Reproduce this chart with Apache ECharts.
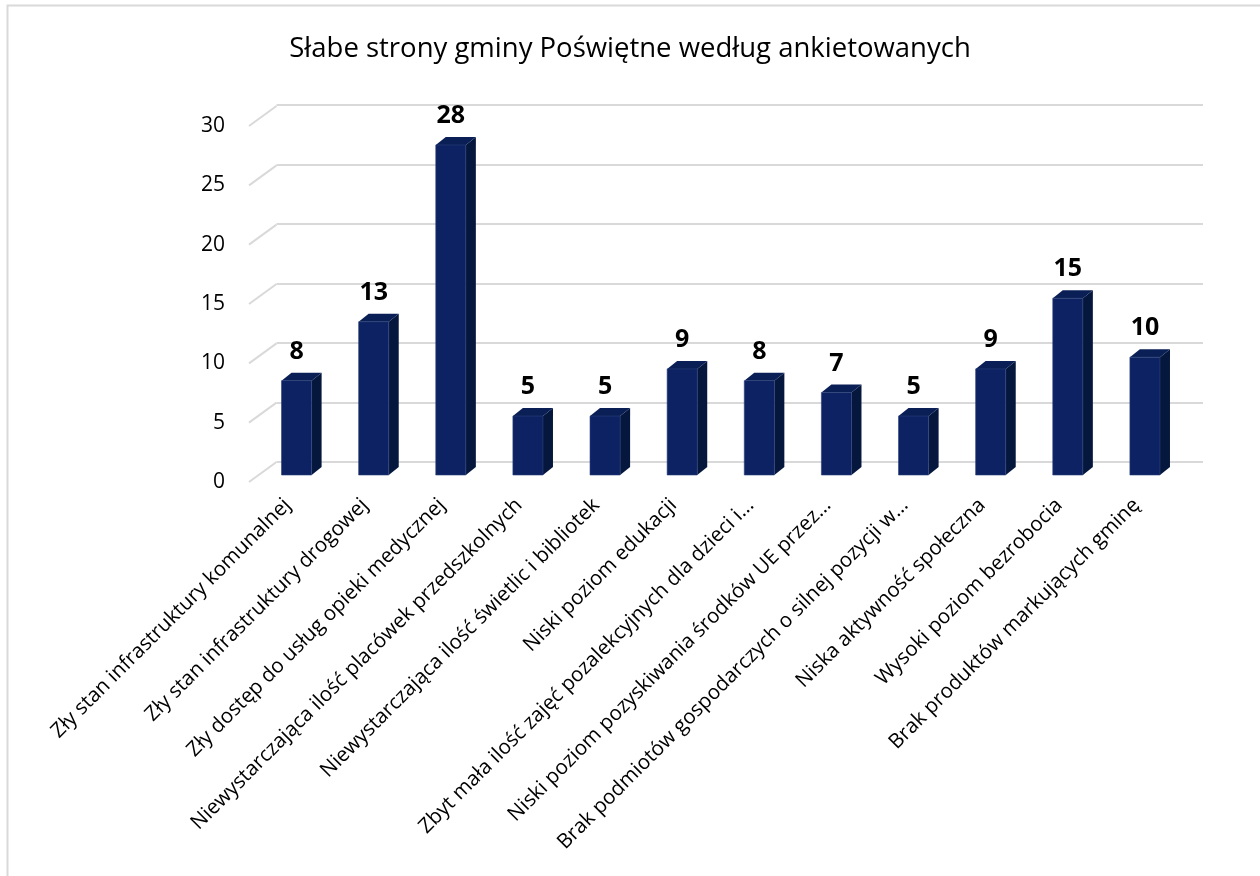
<!DOCTYPE html>
<html>
<head>
<meta charset="utf-8">
<script src="https://cdn.jsdelivr.net/npm/echarts@6/dist/echarts.min.js"></script>
<style>
html,body{margin:0;padding:0;background:#fff;}
#chart{width:1260px;height:876px;}
</style>
</head>
<body>
<div id="chart"></div>
<script>
var titleText = 'Słabe strony gminy Poświętne według ankietowanych';
var categories = [
  'Zły stan infrastruktury komunalnej',
  'Zły stan infrastruktury drogowej',
  'Zły dostęp do usług opieki medycznej',
  'Niewystarczająca ilość placówek przedszkolnych',
  'Niewystarczająca ilość świetlic i bibliotek',
  'Niski poziom edukacji',
  'Zbyt mała ilość zajęć pozalekcyjnych dla dzieci i...',
  'Niski poziom pozyskiwania środków UE przez...',
  'Brak podmiotów gospodarczych o silnej pozycji w...',
  'Niska aktywność społeczna',
  'Wysoki poziom bezrobocia',
  'Brak produktów markujących gminę'
];
var values = [8, 13, 28, 5, 5, 9, 8, 7, 5, 9, 15, 10];
var yTicks = [0, 5, 10, 15, 20, 25, 30];

var FONT = '"Open Sans", sans-serif';
var DEPTH_X = 27.5, DEPTH_Y = -20;   // floor depth (front -> back wall)
var BAR_DX = 10, BAR_DY = -8;        // bar depth

var chart = echarts.init(document.getElementById('chart'));

var barData = values.map(function (v, i) { return [i, v]; });
var tickData = yTicks.map(function (t) { return [0, t]; });

var option = {
  animation: false,
  backgroundColor: '#ffffff',
  title: {
    text: titleText,
    left: 'center',
    top: 30,
    textStyle: {fontFamily: FONT, fontSize: 27.5, fontWeight: 'normal', color: '#000'}
  },
  graphic: [{
    type: 'polyline',
    shape: {points: [[7.5, 880], [7.5, 5.5], [1265, 5.5]]},
    style: {stroke: '#d9d9d9', lineWidth: 2, fill: null},
    silent: true
  }],
  grid: [
    // 0: bar plane
    {left: 258, right: 76.5, top: 121.4, bottom: 401},
    // 1: back wall
    {left: 276.5, right: 57, top: 105, bottom: 414.3},
    // 2: front label plane (value labels + floor edges)
    {left: 249, right: 85, top: 126, bottom: 394},
    // 3: front label plane (category labels)
    {left: 249, right: 85, top: 126, bottom: 394}
  ],
  xAxis: [
    {gridIndex: 0, type: 'category', data: categories, show: false},
    {gridIndex: 1, type: 'value', min: 0, max: 1, show: false},
    {gridIndex: 2, type: 'value', min: 0, max: 1, show: false},
    {gridIndex: 3, type: 'category', data: categories,
     axisLine: {show: false}, axisTick: {show: false},
     axisLabel: {interval: 0, rotate: 45, margin: 20, fontFamily: FONT, fontSize: 20.5, color: '#000'}}
  ],
  yAxis: [
    {gridIndex: 0, type: 'value', min: 0, max: 30, interval: 5, show: false},
    {gridIndex: 1, type: 'value', min: 0, max: 30, interval: 5,
     axisLine: {show: false}, axisTick: {show: false}, axisLabel: {show: false},
     splitLine: {show: true, lineStyle: {color: '#d9d9d9', width: 2}}},
    {gridIndex: 2, type: 'value', min: 0, max: 30, interval: 5,
     axisLine: {show: false}, axisTick: {show: false}, splitLine: {show: false},
     axisLabel: {margin: 24, fontFamily: FONT, fontSize: 21, color: '#000'}},
    {gridIndex: 3, type: 'value', min: 0, max: 30, interval: 5, show: false}
  ],
  series: [
    {
      type: 'custom',
      xAxisIndex: 2, yAxisIndex: 2,
      data: tickData,
      encode: {x: 0, y: 1},
      silent: true,
      renderItem: function (params, api) {
        var p = api.coord([0, api.value(1)]);
        return {
          type: 'line',
          shape: {x1: p[0], y1: p[1], x2: p[0] + DEPTH_X, y2: p[1] + DEPTH_Y},
          style: {stroke: '#d9d9d9', lineWidth: 2}
        };
      }
    },
    {
      type: 'custom',
      xAxisIndex: 0, yAxisIndex: 0,
      data: barData,
      encode: {x: 0, y: 1},
      silent: true,
      renderItem: function (params, api) {
        var i = api.value(0);
        var v = api.value(1);
        var top = api.coord([i, v]);
        var base = api.coord([i, 0]);
        var bw = api.size([1, 0])[0] * 0.39;
        var x0 = top[0] - bw / 2, x1 = top[0] + bw / 2;
        var yt = top[1], yb = base[1];
        return {
          type: 'group',
          children: [
            {type: 'polygon', shape: {points: [[x1, yt], [x1 + BAR_DX, yt + BAR_DY], [x1 + BAR_DX, yb + BAR_DY], [x1, yb]]},
             style: {fill: '#06173d'}},
            {type: 'polygon', shape: {points: [[x0, yt], [x0 + BAR_DX, yt + BAR_DY], [x1 + BAR_DX, yt + BAR_DY], [x1, yt]]},
             style: {fill: '#0a1f55'}},
            {type: 'rect', shape: {x: x0, y: yt, width: bw, height: yb - yt},
             style: {fill: '#0c2262', stroke: '#2a3f7a', lineWidth: 0.6}},
            {type: 'text', x: top[0], y: yt - 29,
             style: {text: String(v), fontFamily: FONT, fontSize: 25, fontWeight: 'bold', fill: '#000',
                     align: 'center', verticalAlign: 'middle'}}
          ]
        };
      }
    }
  ]
};
chart.setOption(option);
</script>
</body>
</html>
